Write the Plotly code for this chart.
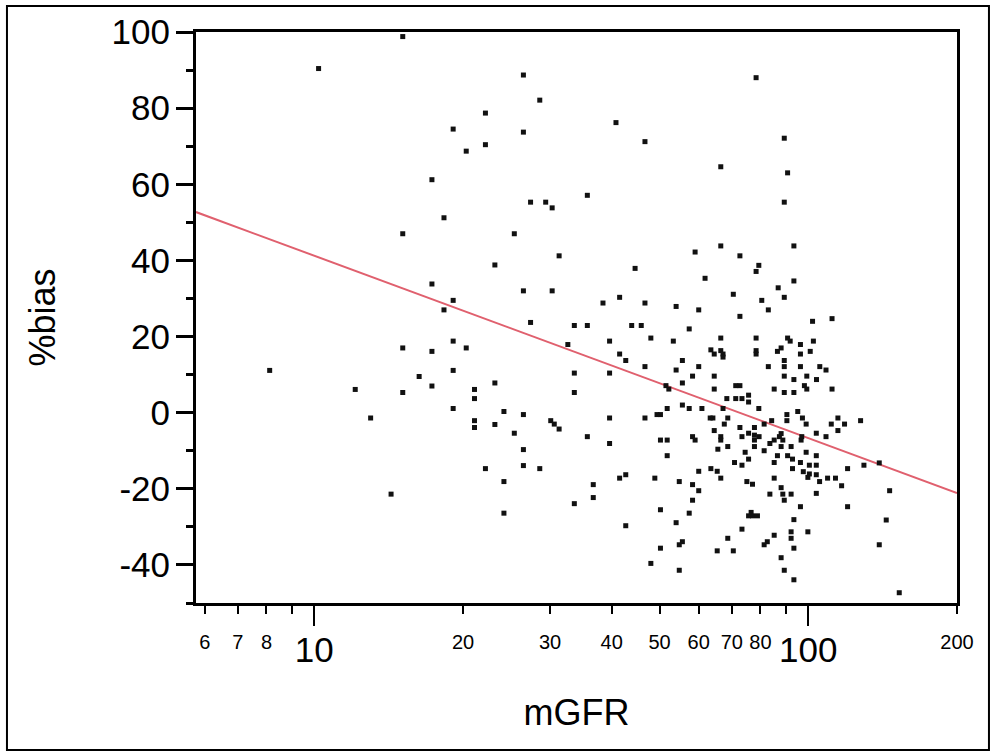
import math
import plotly.graph_objects as go

mgfr = [
    15.1, 10.2, 26.5, 28.6, 22.2, 19.1, 26.5, 22.2, 20.3, 17.3, 27.4, 29.4, 30.3, 18.3, 15.1, 25.4,
    31.3, 23.2, 17.3, 26.5, 30.3, 19.1, 18.3, 27.4,
    78.4, 40.8, 46.7, 89.4, 66.5, 90.8, 35.7, 89.4, 66.5, 93.5, 59.0, 72.7, 79.4, 78.4, 44.6, 61.8,
    93.5, 86.9, 70.5, 89.4, 41.5, 38.4, 46.7, 54.0, 60.0, 80.5, 83.0, 72.7, 111.7, 102.0,
    33.6, 35.7, 43.9, 45.9, 57.4, 39.6, 48.0, 53.3, 66.5, 78.4, 90.8, 91.9, 96.4, 102.4, 32.6, 41.5,
    42.7, 55.6, 63.5, 64.5, 66.5, 67.2, 67.2, 78.4, 78.4, 88.1, 86.6, 96.4, 100.9, 33.6, 39.6, 46.7,
    54.0, 55.6, 60.0, 58.3, 64.5, 83.0, 89.4, 89.4, 89.4, 93.5, 96.4, 99.3, 103.9, 105.5, 108.6, 33.6,
    51.5, 52.2, 64.5, 72.7, 85.3, 89.4, 93.5, 98.2, 99.3, 111.7, 68.4, 71.3, 73.4, 75.7, 75.7, 79.4,
    51.8, 55.6, 57.4, 60.9, 67.2, 39.6, 46.7, 50.2, 64.1, 68.7, 67.6, 72.7, 84.3, 90.5, 90.5, 95.2,
    97.3, 99.0, 81.4, 77.8, 114.8, 111.3, 118.4, 114.8, 127.6, 35.7, 39.6, 50.2, 51.8, 58.3, 59.0, 66.5,
    66.5, 65.6, 68.7, 51.8, 73.4, 75.7, 77.8, 79.5, 77.8, 81.4, 83.6, 85.3, 87.4, 88.8, 88.1, 92.3,
    96.7, 97.0, 103.8, 108.6, 74.5, 75.7, 85.3, 86.6, 90.8, 92.9, 96.4, 99.0, 103.8, 70.9, 73.4, 92.9,
    97.7, 100.5, 103.8, 99.8, 103.8, 105.4, 109.4, 113.5, 116.8, 120.1, 129.6, 139.2, 146.1, 143.8, 139.2, 152.8,
    120.1, 103.8, 96.4, 99.8, 93.5, 92.3, 92.3, 93.5, 88.1, 89.4, 93.5, 85.3, 82.6, 81.4, 88.1, 88.8,
    92.3, 89.4, 83.6, 85.3, 75.1, 77.1, 75.7, 77.1, 78.9, 76.6, 73.4, 68.7, 65.4, 70.5, 66.5, 65.4,
    63.5, 60.0, 54.8, 58.3, 60.0, 58.3, 57.4, 50.2, 54.0, 55.6, 54.8, 50.2, 48.0, 54.8, 42.7, 48.9,
    41.5, 42.7, 36.7, 36.7, 33.6, 64.5,
    19.1, 15.1, 17.3, 20.3, 8.12, 19.1, 16.3, 17.3, 23.2, 12.1, 15.1, 21.1, 21.1, 19.1, 13.0, 24.2,
    26.5, 21.1, 21.1, 23.2, 25.4, 30.1, 30.6, 31.3, 26.5, 22.2, 26.5, 28.6, 24.2, 14.3, 24.2,
    77.8, 88.1, 100.5, 71.3, 49.4, 63.3,
]
pct_bias = [
    98.8, 90.4, 88.7, 82.1, 78.7, 74.5, 73.7, 70.4, 68.7, 61.2, 55.3, 55.3, 53.8, 51.2, 47.0, 47.0,
    41.2, 38.8, 33.8, 32.0, 32.0, 29.5, 27.0, 23.7,
    88.0, 76.2, 71.2, 72.1, 64.6, 63.0, 57.1, 55.3, 43.8, 43.8, 42.2, 41.2, 38.7, 37.1, 37.9, 35.3,
    34.6, 32.8, 31.1, 30.3, 30.3, 28.8, 28.8, 27.9, 27.0, 29.5, 27.0, 25.3, 24.7, 24.0,
    22.9, 22.9, 22.9, 22.9, 22.0, 18.8, 19.6, 18.8, 19.6, 19.6, 19.6, 18.8, 17.9, 18.8, 17.9, 15.4,
    13.7, 13.7, 16.5, 15.4, 16.3, 15.4, 14.6, 16.3, 15.4, 17.0, 16.1, 15.4, 16.1, 10.4, 10.4, 12.1,
    11.2, 7.8, 12.1, 9.6, 9.6, 12.1, 13.7, 12.1, 9.6, 8.7, 12.1, 9.6, 8.7, 12.1, 11.2, 5.3,
    7.1, 6.2, 6.2, 7.1, 6.2, 5.3, 5.3, 7.1, 6.2, 6.2, 3.7, 3.7, 3.7, 4.6, 2.8, 1.1,
    1.1, 2.0, 1.1, 1.1, 1.1, -1.4, -1.4, -0.5, -1.4, -1.4, -3.0, -3.9, -2.1, -0.5, -2.1, 0.3,
    -1.4, -3.0, -3.0, -3.9, -1.4, -3.0, -3.0, -4.7, -2.1, -6.3, -8.1, -7.2, -7.2, -6.3, -7.2, -6.3,
    -7.2, -9.6, -8.9, -11.3, -6.3, -5.4, -7.2, -6.3, -8.9, -10.0, -8.1, -7.2, -6.3, -7.2, -8.9, -8.9,
    -7.2, -6.3, -5.4, -6.3, -10.4, -12.2, -13.1, -11.3, -11.3, -12.2, -13.1, -10.4, -11.3, -13.1, -13.8, -14.7,
    -15.5, -13.8, -13.8, -17.0, -16.3, -18.1, -17.2, -17.2, -19.2, -14.7, -13.8, -13.2, -20.5, -28.2, -34.7, -47.3,
    -24.7, -21.2, -24.7, -31.3, -28.1, -31.3, -33.0, -35.6, -38.1, -41.4, -43.9, -32.2, -33.9, -34.7, -19.7, -21.4,
    -21.4, -23.0, -21.4, -17.2, -18.1, -18.8, -27.1, -27.1, -27.1, -26.2, -30.6, -33.0, -36.3, -36.3, -17.2, -15.4,
    -14.7, -15.4, -18.1, -18.9, -20.5, -23.0, -26.4, -25.5, -28.9, -33.9, -34.7, -35.6, -39.6, -41.4, -29.7, -17.2,
    -17.2, -16.3, -18.9, -22.3, -23.9, -4.7,
    18.8, 17.0, 16.1, 17.0, 11.1, 11.1, 9.5, 7.0, 7.8, 6.1, 5.3, 6.1, 3.7, 1.1, -1.4, 0.3,
    -0.5, -2.1, -3.9, -3.1, -5.4, -2.1, -3.0, -4.3, -9.7, -14.7, -13.9, -14.7, -18.1, -21.4, -26.4,
    -5.9, -5.5, -16.1, 7.1, -0.5, -1.4,
]

# regression line end points (x at axis limits)
fit_x = [5.76, 200]
fit_y = [52.7, -21.1]

x_range = [5.76, 200]
y_range = [-50, 100]

x_major_vals = [10, 100]
x_major_text = ["10", "100"]
x_minor_vals = [6, 7, 8, 9, 20, 30, 40, 50, 60, 70, 80, 90, 200]
x_minor_text = ["6", "7", "8", "", "20", "30", "40", "50", "60", "70", "80", "", "200"]
y_major_vals = [-40, -20, 0, 20, 40, 60, 80, 100]
y_major_text = ["-40", "-20", "0", "20", "40", "60", "80", "100"]
y_minor_vals = [-50, -30, -10, 10, 30, 50, 70, 90]

FONT = "Arial, 'Liberation Sans', sans-serif"
lr = [math.log10(v) for v in x_range]

fig = go.Figure()
fig.add_trace(go.Scatter(
    x=fit_x, y=fit_y, mode="lines",
    line=dict(color="#e0606e", width=2), showlegend=False, hoverinfo="skip"))
fig.add_trace(go.Scatter(
    x=mgfr, y=pct_bias, mode="markers",
    marker=dict(symbol="square", size=5, color="#111111", line=dict(width=0)),
    showlegend=False))
# invisible trace to carry the secondary (minor-label) x axis
fig.add_trace(go.Scatter(
    x=x_range, y=y_range, xaxis="x2", mode="markers",
    marker=dict(opacity=0), showlegend=False, hoverinfo="skip"))

fig.update_layout(
    width=991, height=755,
    margin=dict(l=196, r=34, t=32, b=152),
    paper_bgcolor="white", plot_bgcolor="white",
    font=dict(family=FONT, color="black"),
    xaxis=dict(
        type="log", range=lr,
        tickmode="array", tickvals=x_major_vals, ticktext=x_major_text,
        ticks="outside", ticklen=20, tickwidth=2, tickcolor="black",
        tickfont=dict(size=35, family=FONT), ticklabelstandoff=-6,
        showline=True, linewidth=3, linecolor="black", mirror=True,
        showgrid=False, zeroline=False,
        title=dict(text="mGFR", font=dict(size=36, family=FONT), standoff=32),
    ),
    xaxis2=dict(
        type="log", range=lr, overlaying="x", anchor="y", side="bottom",
        tickmode="array", tickvals=x_minor_vals, ticktext=x_minor_text,
        ticks="outside", ticklen=10, tickwidth=2, tickcolor="black",
        tickfont=dict(size=20, family=FONT), ticklabelstandoff=11,
        showline=False, showgrid=False, zeroline=False,
    ),
    yaxis=dict(
        range=y_range,
        tickmode="array", tickvals=y_major_vals, ticktext=y_major_text,
        ticks="outside", ticklen=17, tickwidth=3, tickcolor="black",
        minor=dict(tickmode="array", tickvals=y_minor_vals, ticks="outside",
                   ticklen=7, tickwidth=3, tickcolor="black", showgrid=False),
        tickfont=dict(size=35, family=FONT), ticklabelstandoff=-1,
        showline=True, linewidth=3, linecolor="black", mirror=True,
        showgrid=False, zeroline=False,
        title=dict(text="%bias", font=dict(size=36, family=FONT), standoff=45),
    ),
    shapes=[dict(type="rect", xref="paper", yref="paper",
                 x0=-0.2484, x1=1.042, y0=-0.2574, y1=1.0455,
                 line=dict(color="black", width=2), fillcolor="rgba(0,0,0,0)")],
)

fig.write_html("out.html", config={"displayModeBar": False},
               post_script="document.body.style.margin='0';")
